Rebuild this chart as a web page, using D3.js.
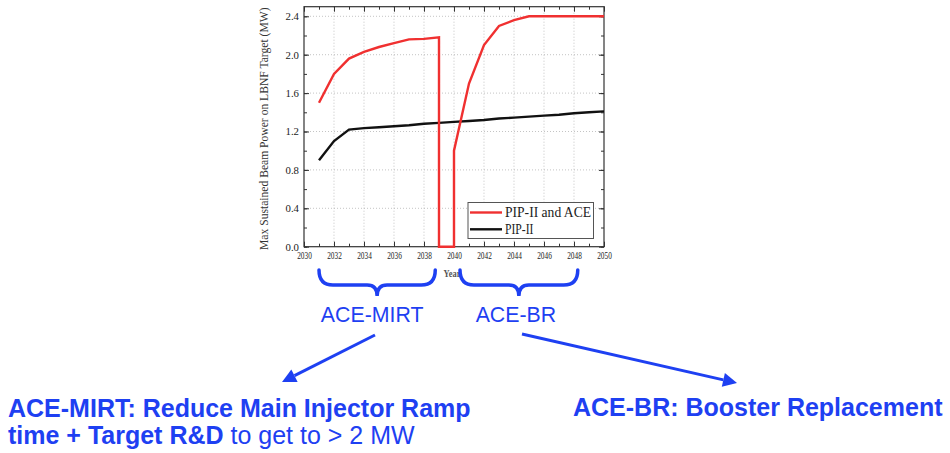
<!DOCTYPE html>
<html lang="en">
  <head>
    <meta charset="UTF-8" />
    <title>ACE beam power</title>
    <style>
      body { margin: 0; background: #fff; }
      .axis text { font-family: "Liberation Serif", serif; font-size: 10px; fill: #222; }
      .axis.yaxis text { font-size: 10.8px; }
      .axis path { display: none; }
      .axis line { stroke: #333; }
    </style>
  </head>
  <body>
    <div id="app"></div>
    <script src="https://cdn.jsdelivr.net/npm/d3@7"></script>
    <script>
      // PIP-II and ACE (red), years repeat where the line drops to zero
      const aceYears = [2031, 2032, 2033, 2034, 2035, 2036, 2037, 2038, 2039, 2039, 2040, 2040,
                        2041, 2042, 2043, 2044, 2045, 2046, 2047, 2048, 2049, 2050];
      const aceMW = [1.50, 1.80, 1.96, 2.03, 2.08, 2.12, 2.16, 2.165, 2.18, 0, 0, 1.0,
                     1.70, 2.10, 2.30, 2.36, 2.40, 2.40, 2.40, 2.40, 2.40, 2.40];
      // PIP-II only (black)
      const pipYears = [2031, 2032, 2033, 2034, 2035, 2036, 2037, 2038, 2039, 2040,
                        2041, 2042, 2043, 2044, 2045, 2046, 2047, 2048, 2049, 2050];
      const pipMW = [0.90, 1.10, 1.22, 1.235, 1.245, 1.255, 1.265, 1.28, 1.29, 1.30,
                     1.31, 1.32, 1.335, 1.345, 1.355, 1.365, 1.375, 1.39, 1.40, 1.41];
      const seriesNames = ["PIP-II and ACE", "PIP-II"];
      const xTicks = [2030, 2032, 2034, 2036, 2038, 2040, 2042, 2044, 2046, 2048, 2050];
      const yTicks = [0.0, 0.4, 0.8, 1.2, 1.6, 2.0, 2.4];
      // phases marked under the axis with braces
      const phaseNames = ["ACE-MIRT", "ACE-BR"];
      const phaseSpans = [[2031, 2038.75], [2040.4, 2048.25]];

      const width = 950, height = 453;
      const pL = 304, pR = 604, pT = 6.7, pB = 246.7;
      const blue = "#1e40f2";

      const x = d3.scaleLinear().domain([2030, 2050]).range([pL, pR]);
      const y = d3.scaleLinear().domain([0, 2.5]).range([pB, pT]);

      const svg = d3.select("#app").append("svg")
        .attr("width", width).attr("height", height);

      // squeeze horizontal text like the squashed original figure
      function squish(sel, k) {
        sel.each(function() {
          const w = this.getComputedTextLength();
          d3.select(this).attr("textLength", w * k).attr("lengthAdjust", "spacingAndGlyphs");
        });
      }

      // dotted grid
      const grid = svg.append("g").attr("stroke", "#aaa").attr("stroke-width", 0.7)
        .attr("stroke-dasharray", "1,2");
      grid.selectAll(".gx").data(xTicks.slice(1, -1)).enter().append("line")
        .attr("x1", d => x(d)).attr("x2", d => x(d)).attr("y1", pT).attr("y2", pB);
      grid.selectAll(".gy").data(yTicks.slice(1)).enter().append("line")
        .attr("x1", pL).attr("x2", pR).attr("y1", d => y(d)).attr("y2", d => y(d));

      // axes with inward ticks on all four sides
      const minorX = d3.range(2030, 2051, 1);
      const minorY = d3.range(0, 2.5, 0.2);
      const xb = svg.append("g").attr("class", "axis").attr("transform", `translate(0,${pB})`);
      xb.call(d3.axisBottom(x).tickValues(minorX).tickSize(-3).tickFormat(""));
      xb.append("g").call(d3.axisBottom(x).tickValues(xTicks).tickSize(-5).tickPadding(5.5).tickFormat(d3.format("d")));
      xb.selectAll("text").filter(function() { return this.textContent !== ""; }).call(squish, 0.73);
      const xt = svg.append("g").attr("class", "axis").attr("transform", `translate(0,${pT})`);
      xt.call(d3.axisTop(x).tickValues(minorX).tickSize(-3).tickFormat(""));
      xt.append("g").call(d3.axisTop(x).tickValues(xTicks).tickSize(-5).tickFormat(""));
      const yl = svg.append("g").attr("class", "axis yaxis").attr("transform", `translate(${pL},0)`);
      yl.call(d3.axisLeft(y).tickValues(minorY).tickSize(-3).tickFormat(""));
      yl.append("g").call(d3.axisLeft(y).tickValues(yTicks).tickSize(-5).tickPadding(5).tickFormat(d3.format(".1f")));
      const yr = svg.append("g").attr("class", "axis").attr("transform", `translate(${pR},0)`);
      yr.call(d3.axisRight(y).tickValues(minorY).tickSize(-3).tickFormat(""));
      yr.append("g").call(d3.axisRight(y).tickValues(yTicks).tickSize(-5).tickFormat(""));

      svg.append("rect").attr("x", pL).attr("y", pT)
        .attr("width", pR - pL).attr("height", pB - pT)
        .attr("fill", "none").attr("stroke", "#333").attr("stroke-width", 1.2);

      // series
      const line = d3.line().x(d => x(d[0])).y(d => y(d[1]));
      svg.append("path").datum(pipYears.map((yr, i) => [yr, pipMW[i]]))
        .attr("d", line).attr("fill", "none").attr("stroke", "#111").attr("stroke-width", 2.4);
      svg.append("path").datum(aceYears.map((yr, i) => [yr, aceMW[i]]))
        .attr("d", line).attr("fill", "none").attr("stroke", "#f03030").attr("stroke-width", 2.4)
        .attr("stroke-linejoin", "miter");

      // axis titles
      svg.append("text").attr("transform", `translate(268,${(pT + pB) / 2 + 2}) rotate(-90)`)
        .attr("text-anchor", "middle").attr("font-family", "Liberation Serif").attr("font-size", 11.6)
        .attr("fill", "#333").text("Max Sustained Beam Power on LBNF Target (MW)");
      svg.append("text").attr("x", 452).attr("y", 277).attr("text-anchor", "middle")
        .attr("font-family", "Liberation Serif").attr("font-size", 10.5).attr("font-weight", "bold")
        .attr("fill", "#555").text("Year").call(squish, 0.8);

      // legend
      const lg = svg.append("g");
      lg.append("rect").attr("x", 468).attr("y", 202.5).attr("width", 125.5).attr("height", 36)
        .attr("fill", "#fff").attr("stroke", "#555").attr("stroke-width", 1);
      const colors = ["#f03030", "#111"];
      const legendW = [86, 28.5];
      seriesNames.forEach((name, i) => {
        const ly = 212.5 + i * 16.8;
        lg.append("line").attr("x1", 470).attr("x2", 502).attr("y1", ly).attr("y2", ly)
          .attr("stroke", colors[i]).attr("stroke-width", 2.4);
        lg.append("text").attr("x", 505).attr("y", ly + 4.8)
          .attr("font-family", "Liberation Serif").attr("font-size", 14.5).attr("fill", "#222")
          .attr("textLength", legendW[i]).attr("lengthAdjust", "spacingAndGlyphs")
          .text(name);
      });

      // braces under the axis
      const bTop = 270, bMid = 285, bTip = 296;
      phaseSpans.forEach((s, i) => {
        const x1 = x(s[0]), x2 = x(s[1]), m = (x1 + x2) / 2;
        const p = `M${x1},${bTop} Q${x1},${bMid} ${x1 + 14},${bMid} L${m - 10},${bMid}` +
          ` Q${m},${bMid} ${m},${bTip} Q${m},${bMid} ${m + 10},${bMid} L${x2 - 14},${bMid}` +
          ` Q${x2},${bMid} ${x2},${bTop}`;
        svg.append("path").attr("d", p).attr("fill", "none").attr("stroke", blue)
          .attr("stroke-width", 3.5).attr("stroke-linecap", "round");
        svg.append("text").attr("x", m - 5 + i * 2).attr("y", 321.5).attr("text-anchor", "middle")
          .attr("font-family", "Liberation Sans").attr("font-size", 21.3).attr("fill", blue)
          .text(phaseNames[i]);
      });

      // arrows
      function arrow(x1, y1, x2, y2) {
        const a = Math.atan2(y2 - y1, x2 - x1), L = 14, W = 7;
        const bx = x2 - L * Math.cos(a), by = y2 - L * Math.sin(a);
        svg.append("line").attr("x1", x1).attr("y1", y1).attr("x2", bx).attr("y2", by)
          .attr("stroke", blue).attr("stroke-width", 3);
        const pts = [[x2, y2],
          [bx + W * Math.sin(a), by - W * Math.cos(a)],
          [bx - W * Math.sin(a), by + W * Math.cos(a)]];
        svg.append("polygon").attr("points", pts.map(p => p.join(",")).join(" ")).attr("fill", blue);
      }
      arrow(375, 335, 282, 382);
      arrow(522, 334, 737, 383);

      // descriptions
      const desc = svg.append("g").attr("font-family", "Liberation Sans").attr("font-size", 25).attr("fill", blue);
      desc.append("text").attr("x", 8).attr("y", 416.5).attr("font-weight", "bold")
        .text("ACE-MIRT: Reduce Main Injector Ramp");
      const l2 = desc.append("text").attr("x", 8).attr("y", 443.5);
      l2.append("tspan").attr("font-weight", "bold").text("time + Target R&D");
      l2.append("tspan").text(" to get to > 2 MW");
      desc.append("text").attr("x", 573).attr("y", 415.5).attr("font-weight", "bold")
        .text("ACE-BR: Booster Replacement");
    </script>
  </body>
</html>
